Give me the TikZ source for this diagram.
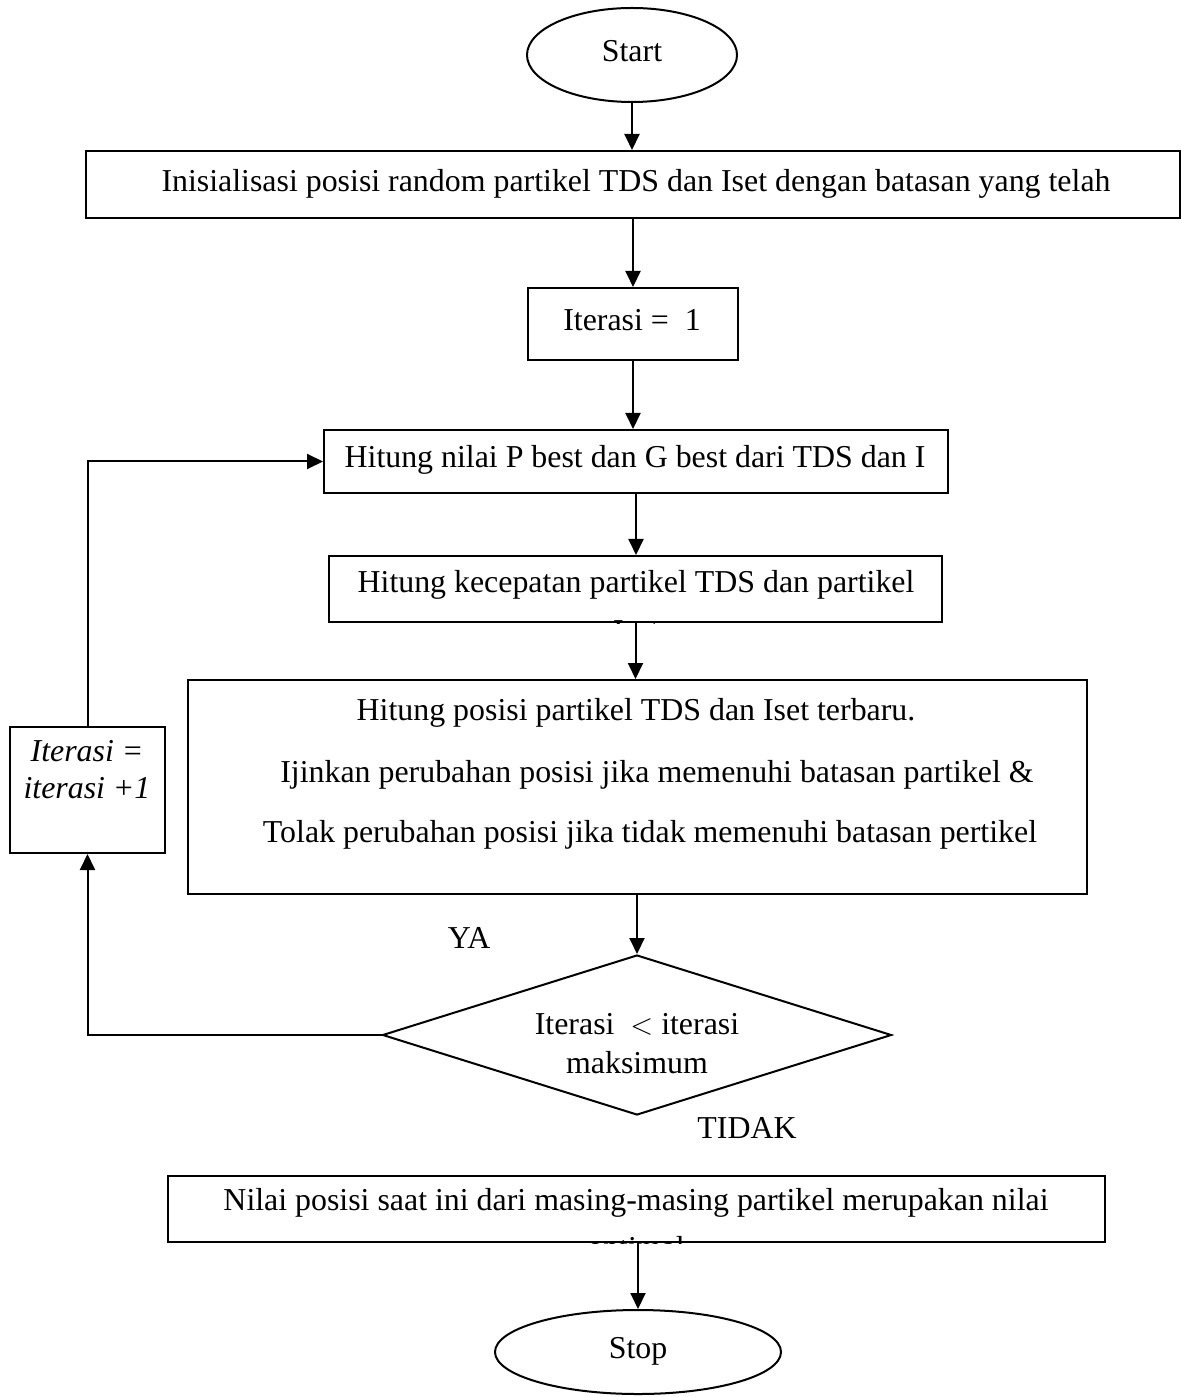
\documentclass[tikz,border=0pt]{standalone}
\usepackage{fontspec}
\setmainfont{Liberation Serif}
\usetikzlibrary{shapes.geometric,arrows.meta,calc}
\begin{document}
\begin{tikzpicture}[x=0.4pt,y=-0.4pt,
  every node/.style={font=\fontsize{12.75}{14.7}\selectfont},
  boxn/.style={draw, line width=0.8pt, rectangle, inner sep=0pt},
  termn/.style={draw, line width=0.8pt, ellipse, inner sep=0pt},
  decn/.style={draw, line width=0.8pt, diamond, inner sep=0pt},
  arr/.style={line width=0.8pt, -{Triangle[length=6.4pt,width=6pt]}},
  itext/.style={font=\fontsize{12.75}{14.7}\selectfont\itshape, align=center}]
\useasboundingbox (0,0) rectangle (1181,1397);

\node[termn, minimum width=84pt, minimum height=37.6pt] (start) at (632,55) {};
\node (startt) at (632,51) {Start};
\node[boxn, minimum width=437.6pt, minimum height=26.8pt] (init) at (633,184.5) {};
\node (initt) at (636,184) {Inisialisasi posisi random partikel TDS dan Iset dengan batasan yang telah};
\node[boxn, minimum width=84pt, minimum height=28.8pt] (it1) at (633,324) {};
\node (it1t) at (632,320) {Iterasi =\ \ 1};
\node[boxn, minimum width=249.6pt, minimum height=25.2pt] (pbest) at (636,461.5) {};
\node (pbestt) at (635,460) {Hitung nilai P best dan G best dari TDS dan I};

\node[boxn, minimum width=245.2pt, minimum height=26.4pt] (vel) at (635.5,589) {};
\node (velt) at (636,585) {Hitung kecepatan partikel TDS dan partikel};
\begin{scope}
  \clip (vel.south west) rectangle (vel.north east);
  \node[anchor=base] (velt2) at (636,641) {Iset};
\end{scope}

\node[boxn, minimum width=359.6pt, minimum height=85.6pt] (pos) at (637.5,787) {};
\node (pos1) at (636,713) {Hitung posisi partikel TDS dan Iset terbaru.};
\node (pos2) at (657,775) {Ijinkan perubahan posisi jika memenuhi batasan partikel \&};
\node (pos3) at (650,835) {Tolak perubahan posisi jika tidak memenuhi batasan pertikel};

\node[decn, minimum width=203.6pt, minimum height=64pt] (dec) at (637,1035) {};
\node[align=center] (dect) at (637,1043.5) {Iterasi\ \ $<$ iterasi\\[0.8pt]maksimum};
\node (ya) at (469,938) {YA};
\node (tidak) at (747,1128) {TIDAK};

\node[boxn, minimum width=62pt, minimum height=50.4pt] (inc) at (87.5,790) {};
\node[itext] (inct) at (87,769.5) {Iterasi =\\iterasi +1};

\node[boxn, minimum width=374.8pt, minimum height=26.4pt] (nilai) at (636.5,1209) {};
\node (nilait) at (636,1203) {Nilai posisi saat ini dari masing-masing partikel merupakan nilai};
\begin{scope}
  \clip (nilai.south west) rectangle (nilai.north east);
  \node[anchor=base] (nilait2) at (636,1258) {optimal};
\end{scope}

\node[termn, minimum width=114.4pt, minimum height=33.6pt] (stop) at (638,1352) {};
\node (stopt) at (638,1351) {Stop};

\draw[arr] (start.south) -- (start.south |- init.north);
\draw[arr] (init.south -| it1.north) -- (it1.north);
\draw[arr] (it1.south) -- (it1.south |- pbest.north);
\draw[arr] (pbest.south) -- (pbest.south |- vel.north);
\draw[arr] (vel.south) -- (vel.south |- pos.north);
\draw[arr] (pos.south -| dec.north) -- (dec.north);
\draw[arr] (dec.west) -- (dec.west -| inc.south) -- (inc.south);
\draw[arr] (inc.north) -- (inc.north |- pbest.west) -- (pbest.west);
\draw[arr] (nilai.south -| stop.north) -- (stop.north);
\end{tikzpicture}
\end{document}
